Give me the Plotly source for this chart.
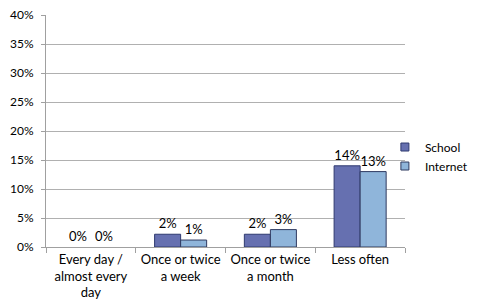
import plotly.graph_objects as go

categories = ["Every day /<br>almost every<br>day", "Once or twice<br>a week", "Once or twice<br>a month", "Less often"]
series_names = ["School", "Internet"]
school = [0, 2.2, 2.2, 14.0]
internet = [0, 1.2, 3.0, 13.0]
school_labels = ["0%", "2%", "2%", "14%"]
internet_labels = ["0%", "1%", "3%", "13%"]
y_ticks = [0, 5, 10, 15, 20, 25, 30, 35, 40]
y_tick_text = [f"{v}%" for v in y_ticks]

font = "Lato, 'Open Sans', sans-serif"
FS = 13
fills = ["#6670B0", "#8FB5DA"]
edges = ["#2F3A70", "#2F3A60"]

def border_widths(vals):
    return [1 if v > 0 else 0 for v in vals]

fig = go.Figure()
for name, vals, labels, fill, edge in zip(series_names, [school, internet],
                                          [school_labels, internet_labels], fills, edges):
    fig.add_trace(go.Bar(
        name=name, x=categories, y=vals, text=labels,
        textposition="outside", cliponaxis=False, showlegend=False,
        marker=dict(color=fill, line=dict(color=edge, width=border_widths(vals))),
        textfont=dict(size=FS, color="#000000"),
    ))
# legend entries with small square keys
for name, fill, edge in zip(series_names, fills, edges):
    fig.add_trace(go.Scatter(
        name=name, x=[None], y=[None], mode="markers",
        marker=dict(symbol="square", size=8, color=fill, line=dict(color=edge, width=1)),
        showlegend=True, hoverinfo="skip",
    ))

# page body has an 8px margin, so the figure is 8px smaller and offset
fig.update_layout(
    width=473, height=300,
    margin=dict(l=38, r=76, t=7, b=61, autoexpand=False),
    paper_bgcolor="white", plot_bgcolor="white",
    font=dict(family=font, size=FS, color="#000000"),
    barmode="group", bargap=0.42, bargroupgap=0,
    showlegend=True,
    legend=dict(x=0.944, y=0.39, xanchor="left", yanchor="middle",
                font=dict(size=12), itemwidth=30, tracegroupgap=0,
                bgcolor="rgba(0,0,0,0)"),
)
fig.update_xaxes(
    showline=True, linecolor="#A0A0A0", linewidth=1,
    ticks="outside", tickson="boundaries", ticklen=5, tickcolor="#A0A0A0",
    showgrid=False, tickfont=dict(size=FS), tickangle=0, automargin=False,
)
fig.update_yaxes(
    range=[0, 40], tickvals=y_ticks, ticktext=y_tick_text,
    showline=True, linecolor="#A0A0A0", linewidth=1,
    ticks="outside", ticklen=4, tickcolor="#A0A0A0",
    showgrid=True, gridcolor="#B0B0B0", gridwidth=1,
    zeroline=False, tickfont=dict(size=12), automargin=False,
    ticklabelstandoff=5, ticklabeloverflow="allow",
)

fig.write_html("out.html")
